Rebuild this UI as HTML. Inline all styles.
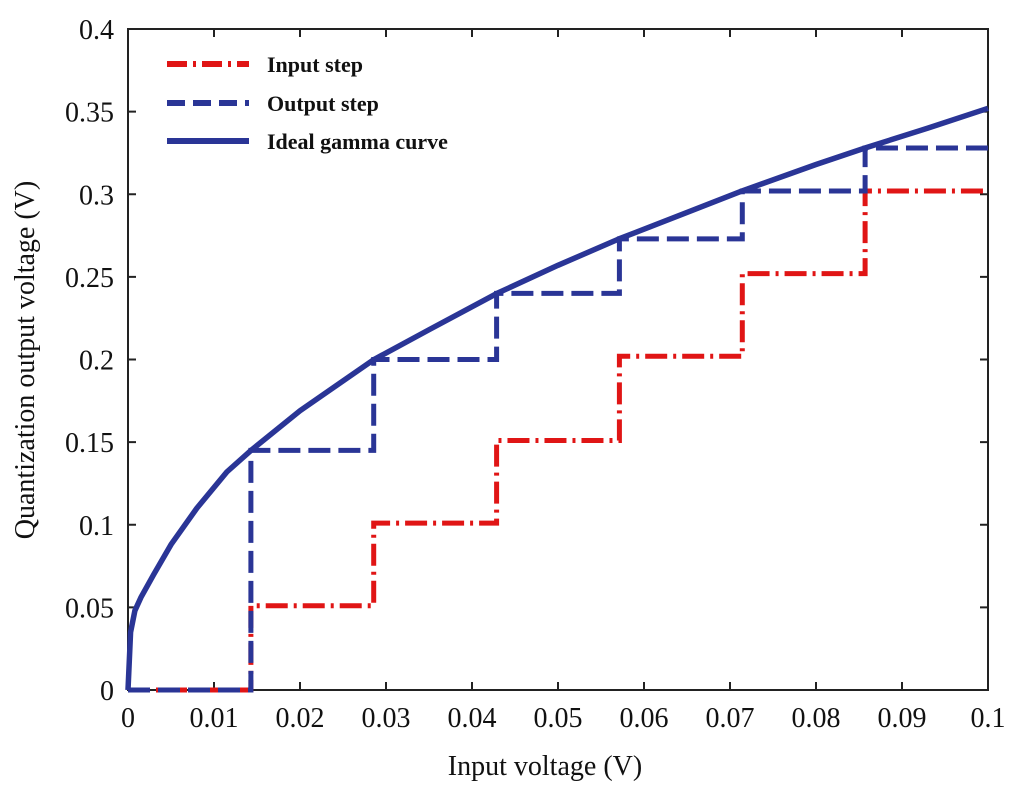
<!DOCTYPE html>
<html><head><meta charset="utf-8"><style>
body{margin:0;background:#fff;}
svg text{font-family:"Liberation Serif",serif;}
</style></head><body>
<svg width="1024" height="791" viewBox="0 0 1024 791">
<g id="plot"></g>
</svg>
<script>
const xTicks=[0,0.01,0.02,0.03,0.04,0.05,0.06,0.07,0.08,0.09,0.1];
const xTickLabels=["0","0.01","0.02","0.03","0.04","0.05","0.06","0.07","0.08","0.09","0.1"];
const yTicks=[0,0.05,0.1,0.15,0.2,0.25,0.3,0.35,0.4];
const yTickLabels=["0","0.05","0.1","0.15","0.2","0.25","0.3","0.35","0.4"];
const stepEdges=[0,0.01429,0.02857,0.04286,0.05714,0.07143,0.08571,0.1];
const inputLevels=[0,0.051,0.101,0.151,0.202,0.252,0.302];
const outputLevels=[0,0.145,0.2,0.24,0.273,0.302,0.328];
const curveX=[0,0.0003,0.0008,0.0015,0.003,0.005,0.008,0.0115,0.0143,0.02,0.0286,0.035,0.0429,0.05,0.0571,0.065,0.0714,0.08,0.0857,0.093,0.1];
const curveY=[0,0.035,0.048,0.056,0.07,0.088,0.11,0.132,0.145,0.169,0.2,0.218,0.24,0.257,0.273,0.289,0.302,0.318,0.328,0.34,0.352];

const L=128,R=988,T=29,B=690;
const sx=v=>L+(v-0)/0.1*(R-L);
const sy=v=>B-v/0.4*(B-T);
const NS="http://www.w3.org/2000/svg";
const g=document.getElementById('plot');
function mk(tag,attrs){const e=document.createElementNS(NS,tag);for(const k in attrs)e.setAttribute(k,attrs[k]);g.appendChild(e);return e;}

let fr=mk('rect',{x:L,y:T,width:R-L,height:B-T,fill:'none',stroke:'#222','stroke-width':2});



xTicks.forEach((v,i)=>{
  const x=sx(v);
  let t=mk('line',{x1:x,x2:x,y1:B,y2:B-8,stroke:'#222','stroke-width':2});
  
  
  let t2=mk('line',{x1:x,x2:x,y1:T,y2:T+8,stroke:'#222','stroke-width':2});
  
  
  let lb=mk('text',{x:x,y:727,'font-size':28,'text-anchor':'middle',fill:'#111'});
  lb.textContent=xTickLabels[i];
  
  
});
yTicks.forEach((v,i)=>{
  const y=sy(v);
  let t=mk('line',{x1:L,x2:L+8,y1:y,y2:y,stroke:'#222','stroke-width':2});
  
  
  let t2=mk('line',{x1:R,x2:R-8,y1:y,y2:y,stroke:'#222','stroke-width':2});
  
  
  let lb=mk('text',{x:114,y:y+10,'font-size':28,'text-anchor':'end',fill:'#111'});
  lb.textContent=yTickLabels[i];
  
  
});

function stepPath(levels){
  let d='M'+sx(stepEdges[0])+','+sy(levels[0]);
  for(let i=0;i<levels.length;i++){
    d+=' L'+sx(stepEdges[i+1])+','+sy(levels[i]);
    if(i+1<levels.length) d+=' L'+sx(stepEdges[i+1])+','+sy(levels[i+1]);
  }
  return d;
}
let inp=mk('path',{d:stepPath(inputLevels),fill:'none',stroke:'#e01515','stroke-width':5,'stroke-dasharray':'22 6 3 6'});


let out=mk('path',{d:stepPath(outputLevels),fill:'none',stroke:'#2a3596','stroke-width':5,'stroke-dasharray':'22 8'});


let cd=curveX.map((v,i)=>(i?'L':'M')+sx(v)+','+sy(curveY[i])).join(' ');
let cur=mk('path',{d:cd,fill:'none',stroke:'#2a3596','stroke-width':5.5,'stroke-linejoin':'round'});



const leg=[['Input step','#e01515','20 6 3 6',64],['Output step','#2a3596','18 8',103],['Ideal gamma curve','#2a3596','none',141]];
const legNames=['legend-input-step','legend-output-step','legend-ideal-gamma'];
leg.forEach((l,i)=>{
  let ln=mk('line',{x1:167,x2:249,y1:l[3],y2:l[3],stroke:l[1],'stroke-width':6,'stroke-dasharray':l[2]});
  
  
  let tx=mk('text',{x:267,y:l[3]+8,'font-size':22,'font-weight':'bold',fill:'#111'});
  tx.textContent=l[0];
  
  
});

let xl=mk('text',{x:545,y:775,'font-size':28,'text-anchor':'middle',fill:'#111','xml:space':'preserve'});
xl.textContent='Input  voltage (V)';


let yl=mk('text',{x:0,y:0,'font-size':28,'text-anchor':'middle',fill:'#111',transform:'translate(34,360) rotate(-90)'});
yl.textContent='Quantization output voltage (V)';


</script>
</body></html>
